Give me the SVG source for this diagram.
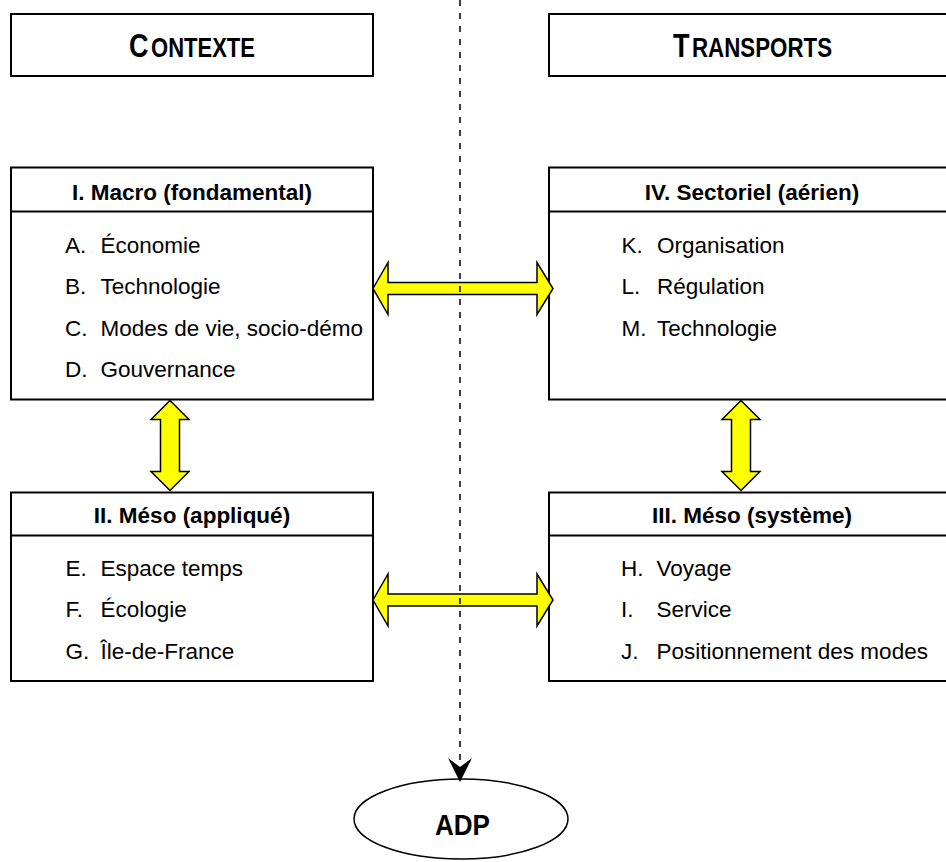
<svg xmlns="http://www.w3.org/2000/svg" width="946" height="862" viewBox="0 0 946 862">
  <defs>
    <style>
      .box { fill: #ffffff; stroke: #000000; stroke-width: 2; }
      .rule { stroke: #000000; stroke-width: 2; }
      .cap { font-family: "Liberation Sans", Arial, sans-serif; font-weight: bold; fill: #000000; }
      .head { font-family: "Liberation Sans", Arial, sans-serif; font-weight: bold; font-size: 22.5px; fill: #000000; text-anchor: middle; }
      .item { font-family: "Liberation Sans", Arial, sans-serif; font-size: 22.5px; fill: #000000; }
      .link { fill: #ffff00; stroke: #000000; stroke-width: 1.5; stroke-linejoin: miter; }
      .flow { fill: none; stroke: #000000; stroke-width: 1.5; stroke-dasharray: 6 7; }
    </style>
  </defs>

  <rect x="0" y="0" width="946" height="862" fill="#ffffff"/>

  <!-- column headers (small capitals, condensed) -->
  <g id="contexte">
    <rect class="box" x="11" y="14" width="362" height="62"/>
    <text class="cap" x="129" y="57" font-size="34" textLength="19.5" lengthAdjust="spacingAndGlyphs">C</text>
    <text class="cap" x="151" y="57" font-size="27.5" textLength="104" lengthAdjust="spacingAndGlyphs">ONTEXTE</text>
  </g>
  <g id="transports">
    <rect class="box" x="549" y="14" width="407" height="62"/>
    <text class="cap" x="673" y="57" font-size="34" textLength="16.5" lengthAdjust="spacingAndGlyphs">T</text>
    <text class="cap" x="692" y="57" font-size="27.5" textLength="140" lengthAdjust="spacingAndGlyphs">RANSPORTS</text>
  </g>

  <!-- level boxes -->
  <g id="macro">
    <rect class="box" x="11" y="167.5" width="362" height="232"/>
    <line class="rule" x1="11" y1="211.5" x2="373" y2="211.5"/>
    <text class="head" x="192" y="200">I. Macro (fondamental)</text>
    <text class="item" x="65" y="252.5">A.</text><text class="item" x="100.5" y="252.5">Économie</text>
    <text class="item" x="65" y="294">B.</text><text class="item" x="100.5" y="294">Technologie</text>
    <text class="item" x="65" y="335.5">C.</text><text class="item" x="100.5" y="335.5">Modes de vie, socio-démo</text>
    <text class="item" x="65" y="377">D.</text><text class="item" x="100.5" y="377">Gouvernance</text>
  </g>

  <g id="sectoriel">
    <rect class="box" x="549" y="167.5" width="407" height="232"/>
    <line class="rule" x1="549" y1="211.5" x2="956" y2="211.5"/>
    <text class="head" x="752" y="200">IV. Sectoriel (aérien)</text>
    <text class="item" x="621.5" y="252.5">K.</text><text class="item" x="657" y="252.5">Organisation</text>
    <text class="item" x="621.5" y="294">L.</text><text class="item" x="657" y="294">Régulation</text>
    <text class="item" x="621.5" y="335.5">M.</text><text class="item" x="657" y="335.5">Technologie</text>
  </g>

  <g id="meso-applique">
    <rect class="box" x="11" y="492.5" width="362" height="188.5"/>
    <line class="rule" x1="11" y1="535.5" x2="373" y2="535.5"/>
    <text class="head" x="192" y="523">II. Méso (appliqué)</text>
    <text class="item" x="65.5" y="575.5">E.</text><text class="item" x="100.5" y="575.5">Espace temps</text>
    <text class="item" x="65.5" y="617">F.</text><text class="item" x="100.5" y="617">Écologie</text>
    <text class="item" x="65.5" y="658.5">G.</text><text class="item" x="100.5" y="658.5">Île-de-France</text>
  </g>

  <g id="meso-systeme">
    <rect class="box" x="549" y="492.5" width="407" height="188.5"/>
    <line class="rule" x1="549" y1="535.5" x2="956" y2="535.5"/>
    <text class="head" x="752" y="523">III. Méso (système)</text>
    <text class="item" x="621" y="575.5">H.</text><text class="item" x="656.5" y="575.5">Voyage</text>
    <text class="item" x="621" y="617">I.</text><text class="item" x="656.5" y="617">Service</text>
    <text class="item" x="621" y="658.5">J.</text><text class="item" x="656.5" y="658.5">Positionnement des modes</text>
  </g>

  <g id="adp">
    <ellipse cx="461" cy="819" rx="107" ry="40" fill="#ffffff" stroke="#000000" stroke-width="1.5"/>
    <text class="cap" x="435" y="835" font-size="30" textLength="55" lengthAdjust="spacingAndGlyphs">ADP</text>
  </g>

  <!-- connectors -->
  <g id="connectors">
    <!-- two-way links between levels -->
    <polygon class="link" points="373,288.5 388,262.5 388,282.5 537,282.5 537,262.5 553,288.5 537,314.5 537,294.5 388,294.5 388,314.5"/>
    <polygon class="link" points="373,600 388,574 388,594 537,594 537,574 553,600 537,626 537,606 388,606 388,626"/>
    <polygon class="link" points="170,400.5 151,419.5 160.5,419.5 160.5,471.5 151,471.5 170,490.5 189,471.5 179.5,471.5 179.5,419.5 189,419.5"/>
    <polygon class="link" points="741,400.5 722,419.5 731.5,419.5 731.5,471.5 722,471.5 741,490.5 760,471.5 750.5,471.5 750.5,419.5 760,419.5"/>
    <!-- dashed divider leading down to ADP -->
    <line class="flow" x1="460" y1="0" x2="460" y2="768"/>
    <path d="M460,782 L448,758 L460,767 L472,758 Z" fill="#000000"/>
  </g>
</svg>
